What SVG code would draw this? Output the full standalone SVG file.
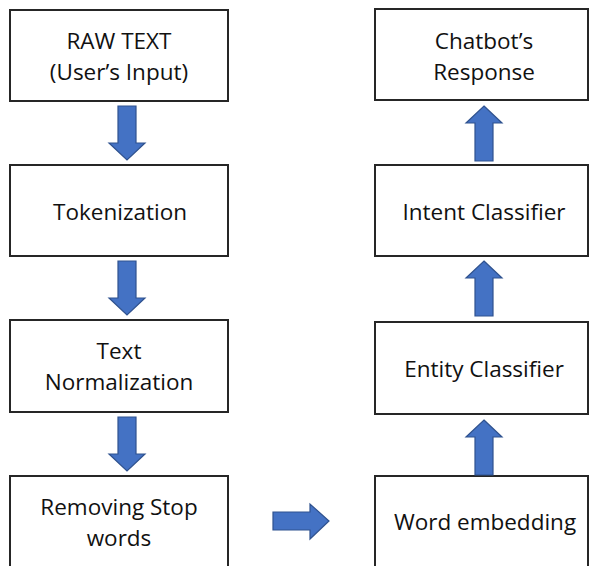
<svg xmlns="http://www.w3.org/2000/svg" width="589" height="566" viewBox="0 0 589 566">
  <style>
    .box { fill: #ffffff; stroke: #262626; stroke-width: 2; }
    .lbl { font-family: "Open Sans", "Liberation Sans", sans-serif; font-size: 22.5px; fill: #111111; text-anchor: middle; }
    .arr { fill: #4472C4; stroke: #2F528F; stroke-width: 1.2; stroke-linejoin: miter; }
  </style>
  <defs>
    <!-- block arrow pointing down, origin at top-centre of shaft -->
    <path id="down" d="M-9,0 H9 V37 H18 L0,54 L-18,37 H-9 Z"/>
    <!-- block arrow pointing up, origin at tip -->
    <path id="up" d="M0,0 L18,17 H9 V55 H-9 V17 H-18 Z"/>
  </defs>
  <rect width="589" height="566" fill="#ffffff"/>

  <!-- left column -->
  <g id="raw-text">
    <rect class="box" x="10" y="10" width="218" height="91"/>
    <text class="lbl" x="119" y="49">RAW TEXT</text>
    <text class="lbl" x="119" y="80">(User’s Input)</text>
  </g>
  <g id="tokenization">
    <rect class="box" x="10" y="165" width="218" height="91"/>
    <text class="lbl" x="120" y="220">Tokenization</text>
  </g>
  <g id="text-normalization">
    <rect class="box" x="10" y="320" width="218" height="92"/>
    <text class="lbl" x="119" y="359">Text</text>
    <text class="lbl" x="119" y="390">Normalization</text>
  </g>
  <g id="removing-stop-words">
    <rect class="box" x="10" y="476" width="218" height="110"/>
    <text class="lbl" x="119" y="515">Removing Stop</text>
    <text class="lbl" x="119" y="546">words</text>
  </g>

  <!-- right column -->
  <g id="chatbot-response">
    <rect class="box" x="375" y="9" width="213" height="91"/>
    <text class="lbl" x="484" y="49">Chatbot’s</text>
    <text class="lbl" x="484" y="80">Response</text>
  </g>
  <g id="intent-classifier">
    <rect class="box" x="375" y="165" width="213" height="91"/>
    <text class="lbl" x="484" y="220">Intent Classifier</text>
  </g>
  <g id="entity-classifier">
    <rect class="box" x="375" y="322" width="213" height="92"/>
    <text class="lbl" x="484" y="377">Entity Classifier</text>
  </g>
  <g id="word-embedding">
    <rect class="box" x="375" y="476" width="213" height="110"/>
    <text class="lbl" x="485" y="530">Word embedding</text>
  </g>

  <!-- connectors -->
  <g id="connectors">
    <use href="#down" class="arr" x="127" y="106"/>
    <use href="#down" class="arr" x="127" y="261"/>
    <use href="#down" class="arr" x="127" y="417"/>
    <path class="arr" d="M273,512 H310 V504 L329,521 L310,539 V530 H273 Z"/>
    <use href="#up" class="arr" x="484" y="420"/>
    <use href="#up" class="arr" x="484" y="261"/>
    <use href="#up" class="arr" x="484" y="106"/>
  </g>
</svg>
